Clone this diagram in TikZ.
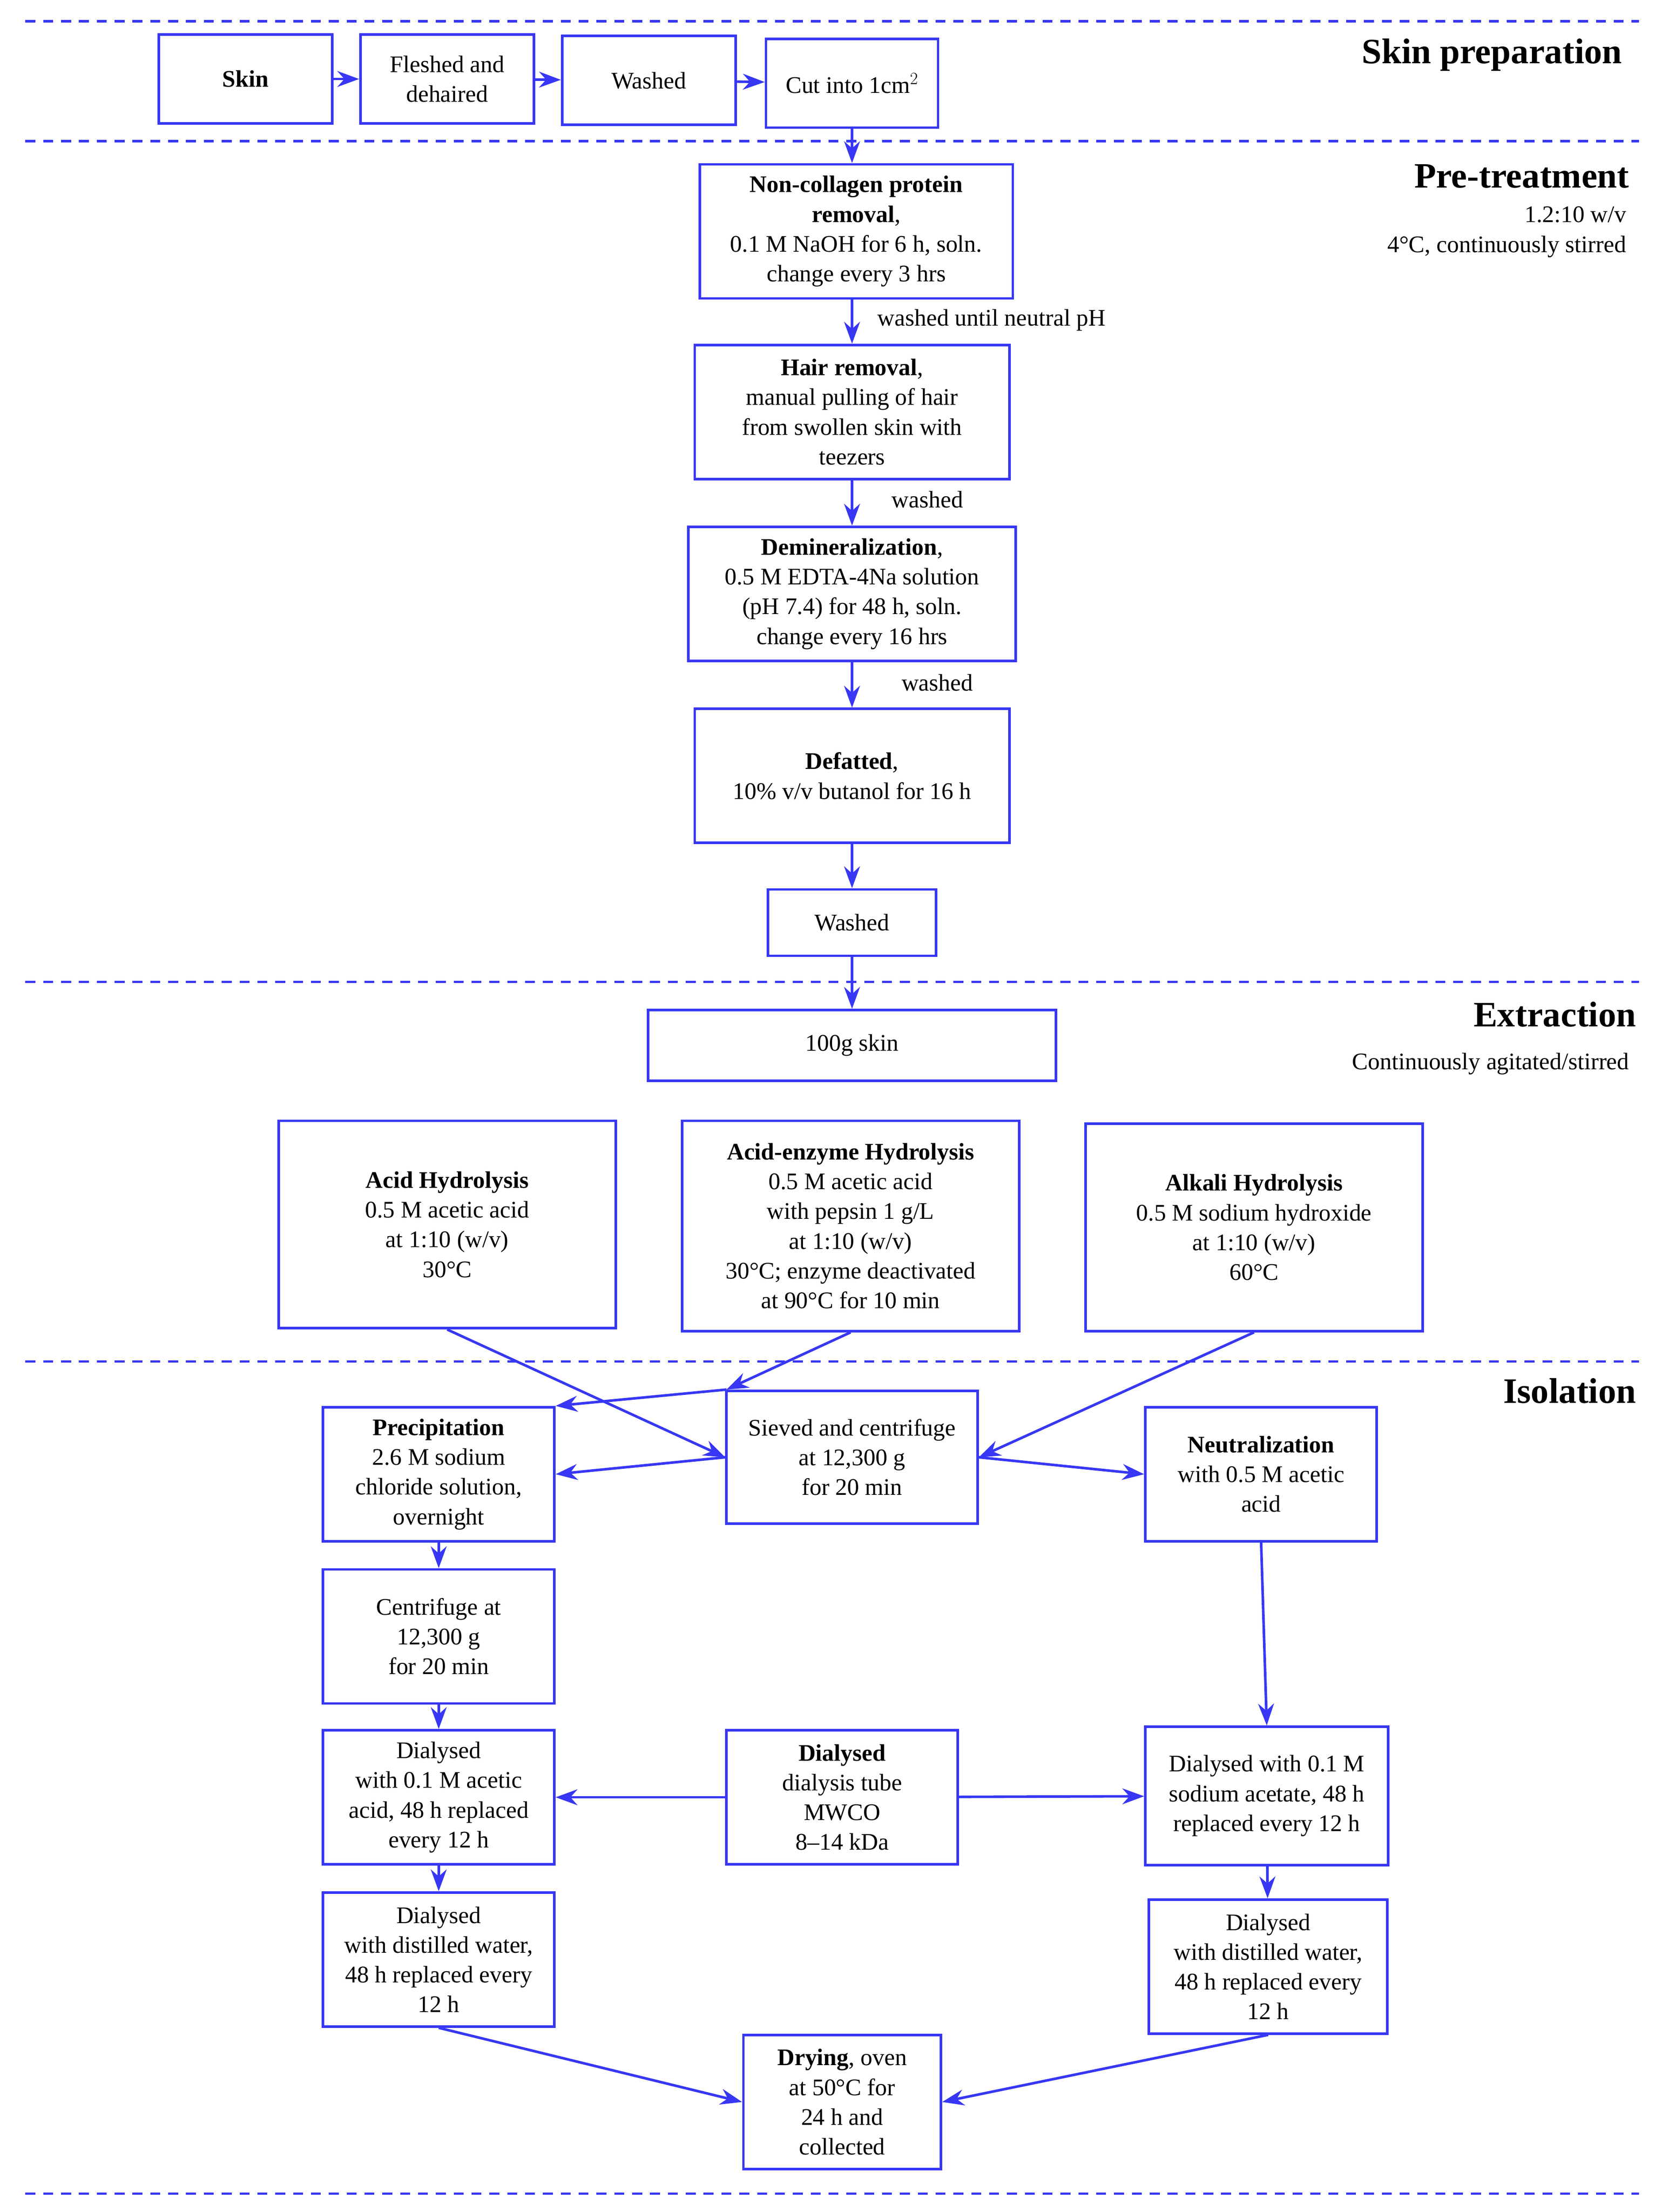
\documentclass[tikz,border=0pt]{standalone}
\usepackage{fontspec}
\setmainfont{Liberation Serif}
\usetikzlibrary{arrows.meta}
\definecolor{bl}{RGB}{55,55,245}
\begin{document}
\begin{tikzpicture}[x=0.05cm,y=-0.05cm,
 b/.style={draw=bl,line width=2.6pt,align=center,inner sep=0pt,font=\fontsize{24}{30}\selectfont},
 ar/.style={draw=bl,line width=2.6pt,-{Stealth[length=22pt,width=16pt]}},
 dl/.style={draw=bl,line width=2.4pt,dash pattern=on 10pt off 8pt},
 ttl/.style={anchor=east,font=\fontsize{36}{40}\selectfont\bfseries,inner sep=0pt},
 nt/.style={font=\fontsize{24}{30}\selectfont,inner sep=0pt}]
\useasboundingbox (0,0) rectangle (1178,1568);
\foreach \y in {15,100,696,965,1555} \draw[dl] (18,\y) -- (1162,\y);
\newcommand{\bx}[6]{\node[b,minimum width=#4*0.05cm,minimum height=#5*0.05cm] (#1) at (#2,#3) {#6};}
\bx{skin}{174}{56}{123}{63}{\textbf{Skin}}
\bx{fle}{317}{56}{123}{63}{Fleshed and\\dehaired}
\bx{wa1}{460}{57}{123}{63}{Washed}
\bx{cut}{604}{59}{122}{63}{Cut into 1cm$^2$}
\bx{nc}{607}{164}{222}{95}{\textbf{Non-collagen protein}\\\textbf{removal},\\0.1 M NaOH for 6 h, soln.\\change every 3 hrs}
\bx{hair}{604}{292}{223}{95}{\textbf{Hair removal},\\manual pulling of hair\\from swollen skin with\\teezers}
\bx{dem}{604}{421}{232}{95}{\textbf{Demineralization},\\0.5 M EDTA-4Na solution\\(pH 7.4) for 48 h, soln.\\change every 16 hrs}
\bx{def}{604}{550}{223}{95}{\textbf{Defatted},\\10\% v/v butanol for 16 h}
\bx{wa2}{604}{654}{119}{47}{Washed}
\bx{sk}{604}{741}{289}{50}{100g skin}
\bx{acid}{317}{868}{239}{147}{\textbf{Acid Hydrolysis}\\0.5 M acetic acid\\at 1:10 (w/v)\\30°C}
\bx{ae}{603}{869}{239}{149}{\textbf{Acid-enzyme Hydrolysis}\\0.5 M acetic acid\\with pepsin 1 g/L\\at 1:10 (w/v)\\30°C; enzyme deactivated\\at 90°C for 10 min}
\bx{alk}{889}{870}{239}{147}{\textbf{Alkali Hydrolysis}\\0.5 M sodium hydroxide\\at 1:10 (w/v)\\60°C}
\bx{pre}{311}{1045}{164}{95}{\textbf{Precipitation}\\2.6 M sodium\\chloride solution,\\overnight}
\bx{sie}{604}{1033}{178}{94}{Sieved and centrifuge\\at 12,300 g\\for 20 min}
\bx{neu}{894}{1045}{164}{95}{\textbf{Neutralization}\\with 0.5 M acetic\\acid}
\bx{cen}{311}{1160}{164}{95}{Centrifuge at\\12,300 g\\for 20 min}
\bx{d1}{311}{1274}{164}{95}{Dialysed\\with 0.1 M acetic\\acid, 48 h replaced\\every 12 h}
\bx{dia}{597}{1274}{164}{95}{\textbf{Dialysed}\\dialysis tube\\MWCO\\8--14 kDa}
\bx{d2}{898}{1273}{172}{98}{Dialysed with 0.1 M\\sodium acetate, 48 h\\replaced every 12 h}
\bx{w1}{311}{1389}{164}{95}{Dialysed\\with distilled water,\\48 h replaced every\\12 h}
\bx{w2}{899}{1394}{169}{95}{Dialysed\\with distilled water,\\48 h replaced every\\12 h}
\bx{dry}{597}{1490}{140}{95}{\textbf{Drying}, oven\\at 50°C for\\24 h and\\collected}
\draw[ar] (skin)--(fle); \draw[ar] (fle)--(wa1); \draw[ar] (wa1)--(cut);
\draw[ar] (cut)--(cut|-nc.north); \draw[ar] (hair|-nc.south)--(hair);
\draw[ar] (hair)--(dem); \draw[ar] (dem)--(def); \draw[ar] (def)--(wa2); \draw[ar] (wa2)--(sk);
\draw[ar] (acid.south)--(sie.west);
\coordinate (j) at (515,985);
\draw[ar] (ae.south)--(j);
\draw[ar] (j)--(pre.north east);
\draw[ar] (alk.south)--(sie.east);
\draw[ar] (sie.west)--(pre.east);
\draw[ar] (sie.east)--(neu.west);
\draw[ar] (neu.south)--(d2.north);
\draw[ar] (pre)--(cen); \draw[ar] (cen)--(d1); \draw[ar] (d1)--(w1);
\draw[ar] (dia)--(d1); \draw[ar] (dia)--(d2); \draw[ar] (d2)--(w2);
\draw[ar] (w1.south)--(dry.west); \draw[ar] (w2.south)--(dry.east);
\node[nt,anchor=west] at (622,227) {washed until neutral pH};
\node[nt,anchor=west] at (632,354) {washed};
\node[nt,anchor=west] at (639,484) {washed};
\node[ttl] at (1150,39) {Skin preparation};
\node[ttl] at (1155,125) {Pre-treatment};
\node[nt,anchor=east] at (1153,152) {1.2:10 w/v};
\node[nt,anchor=east] at (1153,175) {4°C, continuously stirred};
\node[ttl] at (1160,719) {Extraction};
\node[nt,anchor=east] at (1155,754) {Continuously agitated/stirred};
\node[ttl] at (1160,986) {Isolation};
\end{tikzpicture}
\end{document}
